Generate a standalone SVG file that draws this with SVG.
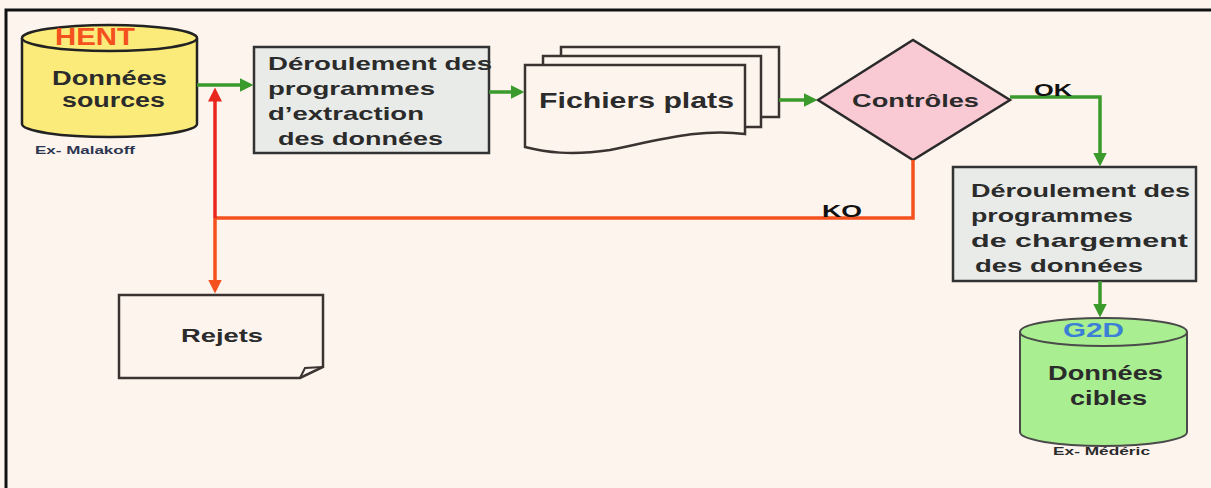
<svg xmlns="http://www.w3.org/2000/svg" width="1211" height="488" viewBox="0 0 1211 488">
<style>
.t{font-family:"Liberation Sans",Arial,sans-serif;font-weight:bold;fill:#2b2b2b}
.box{fill:#e9ebe8;stroke:#333;stroke-width:2.5}
.doc{fill:#fdf4ee;stroke:#3a3330;stroke-width:2.5}
.g{stroke:#3a9a2c;stroke-width:3.5;fill:none}
.r{stroke:#e8261e;stroke-width:3.5;fill:none}
.o{stroke:#f4511e;stroke-width:3.5;fill:none}
</style>
<defs>
<marker id="ag" markerWidth="4" markerHeight="4" refX="3" refY="2" orient="auto" markerUnits="strokeWidth"><path d="M0,0 L4,2 L0,4 z" fill="#3a9a2c"/></marker>
<marker id="ar" markerWidth="4" markerHeight="4" refX="3" refY="2" orient="auto" markerUnits="strokeWidth"><path d="M0,0 L4,2 L0,4 z" fill="#e8261e"/></marker>
<marker id="ao" markerWidth="4" markerHeight="4" refX="3" refY="2" orient="auto" markerUnits="strokeWidth"><path d="M0,0 L4,2 L0,4 z" fill="#f4511e"/></marker>
</defs>
<rect x="0" y="0" width="1211" height="488" fill="#fdf4ee"/>
<rect x="6" y="10" width="1215" height="490" fill="#fdf4ee" stroke="#111" stroke-width="3"/>

<g id="hent">
<path d="M22,38 L22,124 A87.5,13 0 0 0 197,124 L197,38" fill="#fbeb7a" stroke="#222" stroke-width="2.5"/>
<ellipse cx="109.5" cy="38" rx="87.5" ry="13" fill="#fbeb7a" stroke="#222" stroke-width="2.5"/>
<text x="55" y="45" class="t" style="font-size:23px;fill:#f4511e" textLength="80" lengthAdjust="spacingAndGlyphs">HENT</text>
<text x="52" y="85" class="t" style="font-size:20px" textLength="115" lengthAdjust="spacingAndGlyphs">Données</text>
<text x="62" y="107" class="t" style="font-size:20px" textLength="103" lengthAdjust="spacingAndGlyphs">sources</text>
<text x="35" y="154" class="t" style="font-size:10.5px;fill:#2d3550" textLength="100" lengthAdjust="spacingAndGlyphs">Ex- Malakoff</text>
</g>

<g id="extraction">
<rect x="254" y="47" width="235" height="106" class="box"/>
<text x="268" y="70" class="t" style="font-size:19px" textLength="224" lengthAdjust="spacingAndGlyphs">Déroulement des</text>
<text x="268" y="95" class="t" style="font-size:19px" textLength="167" lengthAdjust="spacingAndGlyphs">programmes</text>
<text x="268" y="120" class="t" style="font-size:19px" textLength="156" lengthAdjust="spacingAndGlyphs">d’extraction</text>
<text x="278" y="145" class="t" style="font-size:19px" textLength="165" lengthAdjust="spacingAndGlyphs">des données</text>
</g>

<g id="fichiers">
<rect x="561" y="47" width="218" height="70" class="doc"/>
<rect x="543" y="56" width="218" height="71" class="doc"/>
<path d="M525,65 L745,65 L745,134 C700,128 660,140 610,150 C570,156 545,152 525,147 Z" class="doc"/>
<text x="539" y="108" class="t" style="font-size:22px" textLength="195" lengthAdjust="spacingAndGlyphs">Fichiers plats</text>
</g>

<g id="controles">
<path d="M818,100 L913,40 L1010,100 L913,160 Z" fill="#f9c9d4" stroke="#2a2a2a" stroke-width="2.5"/>
<text x="852" y="107" class="t" style="font-size:19px" textLength="127" lengthAdjust="spacingAndGlyphs">Contrôles</text>
</g>

<g id="chargement">
<rect x="953" y="167" width="243" height="114" class="box"/>
<text x="971" y="197" class="t" style="font-size:19px" textLength="219" lengthAdjust="spacingAndGlyphs">Déroulement des</text>
<text x="971" y="222" class="t" style="font-size:19px" textLength="162" lengthAdjust="spacingAndGlyphs">programmes</text>
<text x="971" y="247" class="t" style="font-size:19px" textLength="217" lengthAdjust="spacingAndGlyphs">de chargement</text>
<text x="975" y="272" class="t" style="font-size:19px" textLength="168" lengthAdjust="spacingAndGlyphs">des données</text>
</g>

<g id="g2d">
<path d="M1020,332 L1020,432 A83.5,14 0 0 0 1187,432 L1187,332" fill="#a9ee90" stroke="#4a4a4a" stroke-width="2"/>
<ellipse cx="1103.5" cy="332" rx="83.5" ry="14" fill="#a9ee90" stroke="#4a4a4a" stroke-width="2"/>
<text x="1063" y="337" class="t" style="font-size:21px;fill:#3b80d6" textLength="61" lengthAdjust="spacingAndGlyphs">G2D</text>
<text x="1048" y="380" class="t" style="font-size:20px" textLength="115" lengthAdjust="spacingAndGlyphs">Données</text>
<text x="1070" y="405" class="t" style="font-size:20px" textLength="77" lengthAdjust="spacingAndGlyphs">cibles</text>
<text x="1053" y="455" class="t" style="font-size:11px" textLength="97" lengthAdjust="spacingAndGlyphs">Ex- Médéric</text>
</g>

<g id="rejets">
<path d="M119,295 L323,295 L323,367 L300,378 L119,378 Z" class="doc"/>
<path d="M300,378 L305,368 L323,367" fill="none" stroke="#3a3330" stroke-width="2"/>
<text x="181" y="342" class="t" style="font-size:19px" textLength="82" lengthAdjust="spacingAndGlyphs">Rejets</text>
</g>

<g id="connectors">
<line x1="197" y1="85" x2="250" y2="85" class="g" marker-end="url(#ag)"/>
<line x1="489" y1="92" x2="521" y2="92" class="g" marker-end="url(#ag)"/>
<line x1="779" y1="100" x2="814" y2="100" class="g" marker-end="url(#ag)"/>
<polyline points="1010,97 1100,97 1100,163" class="g" marker-end="url(#ag)"/>
<line x1="1100" y1="281" x2="1100" y2="314" class="g" marker-end="url(#ag)"/>
<polyline points="913,160 913,218 215,218" class="o"/>
<line x1="215" y1="218" x2="215" y2="91" class="r" marker-end="url(#ar)"/>
<line x1="215" y1="218" x2="215" y2="290" class="o" marker-end="url(#ao)"/>
<text x="1034" y="96" class="t" style="font-size:17px;fill:#111" textLength="38" lengthAdjust="spacingAndGlyphs">OK</text>
<text x="822" y="217" class="t" style="font-size:17px;fill:#111" textLength="40" lengthAdjust="spacingAndGlyphs">KO</text>
</g>
</svg>
